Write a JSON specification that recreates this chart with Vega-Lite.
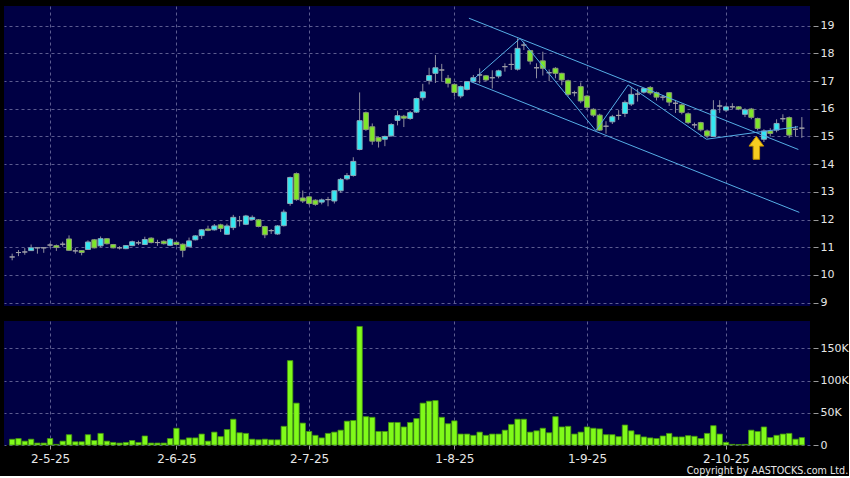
{
  "$schema": "https://vega.github.io/schema/vega-lite/v6.json",
  "background": "#000000",
  "padding": {"left": 4, "top": 6, "right": 0, "bottom": 0},
  "config": {
    "view": {"fill": "#000044", "stroke": null},
    "font": "DejaVu Sans",
    "axis": {"labelColor": "#e6e6e6", "labelFont": "DejaVu Sans", "gridColor": "#5c5c90", "gridDash": [3, 3], "gridWidth": 1, "domain": false, "tickColor": "#9a9a9a", "title": null, "labelOverlap": false, "labelFlush": false},
    "concat": {"spacing": 13}
  },
  "title": {"text": "Copyright by AASTOCKS.com Ltd.", "orient": "bottom", "anchor": "end", "frame": "bounds", "font": "DejaVu Sans", "fontSize": 9.6, "fontWeight": "normal", "color": "#e6e6e6", "offset": 2},
  "datasets": {
    "candles": [
      {"day": 0, "open": 10.65, "high": 10.77, "low": 10.53, "close": 10.65, "volume": 8900},
      {"day": 1, "open": 10.81, "high": 10.9, "low": 10.68, "close": 10.81, "volume": 10000},
      {"day": 2, "open": 10.83, "high": 10.97, "low": 10.73, "close": 10.83, "volume": 6000},
      {"day": 3, "open": 10.88, "high": 11.1, "low": 10.87, "close": 10.98, "volume": 9000},
      {"day": 4, "open": 10.98, "high": 11.0, "low": 10.77, "close": 10.98, "volume": 3000},
      {"day": 5, "open": 10.98, "high": 11.0, "low": 10.8, "close": 10.98, "volume": 3000},
      {"day": 6, "open": 11.08, "high": 11.15, "low": 10.98, "close": 11.08, "volume": 10000},
      {"day": 7, "open": 11.06, "high": 11.1, "low": 10.87, "close": 10.99, "volume": 1000},
      {"day": 8, "open": 11.11, "high": 11.2, "low": 11.02, "close": 11.11, "volume": 6000},
      {"day": 9, "open": 11.3, "high": 11.43, "low": 10.87, "close": 10.89, "volume": 16000},
      {"day": 10, "open": 10.87, "high": 10.98, "low": 10.77, "close": 10.87, "volume": 5000},
      {"day": 11, "open": 10.88, "high": 10.9, "low": 10.71, "close": 10.81, "volume": 5000},
      {"day": 12, "open": 10.92, "high": 11.25, "low": 10.9, "close": 11.19, "volume": 16000},
      {"day": 13, "open": 11.27, "high": 11.3, "low": 10.96, "close": 10.98, "volume": 7000},
      {"day": 14, "open": 11.05, "high": 11.39, "low": 11.01, "close": 11.31, "volume": 18000},
      {"day": 15, "open": 11.31, "high": 11.33, "low": 11.1, "close": 11.13, "volume": 6000},
      {"day": 16, "open": 11.1, "high": 11.12, "low": 10.96, "close": 10.98, "volume": 4000},
      {"day": 17, "open": 10.98, "high": 11.04, "low": 10.92, "close": 10.98, "volume": 3000},
      {"day": 18, "open": 10.95, "high": 11.08, "low": 10.93, "close": 11.06, "volume": 4000},
      {"day": 19, "open": 11.06, "high": 11.24, "low": 11.04, "close": 11.2, "volume": 7000},
      {"day": 20, "open": 11.16, "high": 11.24, "low": 11.08, "close": 11.16, "volume": 4000},
      {"day": 21, "open": 11.1, "high": 11.38, "low": 11.08, "close": 11.28, "volume": 14000},
      {"day": 22, "open": 11.33, "high": 11.36, "low": 11.14, "close": 11.17, "volume": 3000},
      {"day": 23, "open": 11.17, "high": 11.27, "low": 11.05, "close": 11.17, "volume": 3000},
      {"day": 24, "open": 11.22, "high": 11.25, "low": 11.1, "close": 11.13, "volume": 3000},
      {"day": 25, "open": 11.07, "high": 11.33, "low": 11.04, "close": 11.29, "volume": 10000},
      {"day": 26, "open": 11.18, "high": 11.2, "low": 11.06, "close": 11.1, "volume": 26000},
      {"day": 27, "open": 11.11, "high": 11.14, "low": 10.64, "close": 10.89, "volume": 8000},
      {"day": 28, "open": 11.02, "high": 11.35, "low": 11.0, "close": 11.23, "volume": 11000},
      {"day": 29, "open": 11.27, "high": 11.44, "low": 11.25, "close": 11.41, "volume": 11000},
      {"day": 30, "open": 11.42, "high": 11.66, "low": 11.3, "close": 11.63, "volume": 17000},
      {"day": 31, "open": 11.66, "high": 11.78, "low": 11.58, "close": 11.61, "volume": 6000},
      {"day": 32, "open": 11.63, "high": 11.84, "low": 11.6, "close": 11.77, "volume": 20000},
      {"day": 33, "open": 11.81, "high": 11.85, "low": 11.55, "close": 11.68, "volume": 13000},
      {"day": 34, "open": 11.47, "high": 11.85, "low": 11.45, "close": 11.77, "volume": 24000},
      {"day": 35, "open": 11.71, "high": 12.17, "low": 11.62, "close": 12.08, "volume": 40000},
      {"day": 36, "open": 11.96, "high": 12.13, "low": 11.75, "close": 11.96, "volume": 19000},
      {"day": 37, "open": 11.83, "high": 12.17, "low": 11.8, "close": 12.13, "volume": 18000},
      {"day": 38, "open": 12.0, "high": 12.15, "low": 11.97, "close": 12.08, "volume": 9000},
      {"day": 39, "open": 11.99, "high": 12.02, "low": 11.72, "close": 11.75, "volume": 8000},
      {"day": 40, "open": 11.75, "high": 11.78, "low": 11.33, "close": 11.45, "volume": 9000},
      {"day": 41, "open": 11.6, "high": 11.66, "low": 11.48, "close": 11.6, "volume": 8000},
      {"day": 42, "open": 11.48, "high": 11.8, "low": 11.45, "close": 11.77, "volume": 8000},
      {"day": 43, "open": 11.78, "high": 12.36, "low": 11.75, "close": 12.27, "volume": 29000},
      {"day": 44, "open": 12.58, "high": 13.55, "low": 12.5, "close": 13.52, "volume": 131000},
      {"day": 45, "open": 13.66, "high": 13.7, "low": 12.68, "close": 12.72, "volume": 65000},
      {"day": 46, "open": 12.78, "high": 13.05, "low": 12.6, "close": 12.67, "volume": 34000},
      {"day": 47, "open": 12.82, "high": 12.85, "low": 12.52, "close": 12.58, "volume": 21000},
      {"day": 48, "open": 12.7, "high": 12.73, "low": 12.5, "close": 12.55, "volume": 15000},
      {"day": 49, "open": 12.63, "high": 12.76, "low": 12.55, "close": 12.71, "volume": 11000},
      {"day": 50, "open": 12.72, "high": 12.82, "low": 12.48, "close": 12.72, "volume": 18000},
      {"day": 51, "open": 12.67, "high": 13.06, "low": 12.58, "close": 13.04, "volume": 20000},
      {"day": 52, "open": 13.04, "high": 13.5, "low": 12.97, "close": 13.45, "volume": 23000},
      {"day": 53, "open": 13.47, "high": 13.68, "low": 13.42, "close": 13.59, "volume": 37000},
      {"day": 54, "open": 13.59, "high": 14.25, "low": 13.55, "close": 14.1, "volume": 38000},
      {"day": 55, "open": 14.53, "high": 16.59, "low": 14.5, "close": 15.57, "volume": 184000},
      {"day": 56, "open": 15.86, "high": 15.9, "low": 15.2, "close": 15.25, "volume": 44000},
      {"day": 57, "open": 15.35, "high": 15.47, "low": 14.7, "close": 14.83, "volume": 43000},
      {"day": 58, "open": 14.96, "high": 15.0, "low": 14.6, "close": 14.83, "volume": 21000},
      {"day": 59, "open": 14.9, "high": 15.03, "low": 14.65, "close": 15.0, "volume": 21000},
      {"day": 60, "open": 15.02, "high": 15.48, "low": 15.0, "close": 15.43, "volume": 35000},
      {"day": 61, "open": 15.58, "high": 15.93, "low": 15.4, "close": 15.75, "volume": 35000},
      {"day": 62, "open": 15.73, "high": 15.78, "low": 15.34, "close": 15.66, "volume": 28000},
      {"day": 63, "open": 15.65, "high": 15.92, "low": 15.6, "close": 15.86, "volume": 35000},
      {"day": 64, "open": 15.88, "high": 16.4, "low": 15.85, "close": 16.37, "volume": 41000},
      {"day": 65, "open": 16.4, "high": 16.9, "low": 16.3, "close": 16.61, "volume": 65000},
      {"day": 66, "open": 17.02, "high": 17.48, "low": 16.88, "close": 17.2, "volume": 68000},
      {"day": 67, "open": 17.28, "high": 17.94, "low": 16.93, "close": 17.48, "volume": 69000},
      {"day": 68, "open": 17.4, "high": 17.62, "low": 16.98, "close": 17.4, "volume": 43000},
      {"day": 69, "open": 17.1, "high": 17.22, "low": 16.77, "close": 16.92, "volume": 33000},
      {"day": 70, "open": 16.88, "high": 16.92, "low": 16.45, "close": 16.59, "volume": 37500},
      {"day": 71, "open": 16.46, "high": 16.84, "low": 16.38, "close": 16.8, "volume": 17000},
      {"day": 72, "open": 16.7, "high": 17.0, "low": 16.66, "close": 16.98, "volume": 17000},
      {"day": 73, "open": 16.98, "high": 17.22, "low": 16.94, "close": 17.12, "volume": 15000},
      {"day": 74, "open": 17.22, "high": 17.46, "low": 16.92, "close": 17.22, "volume": 20000},
      {"day": 75, "open": 17.19, "high": 17.22, "low": 16.99, "close": 17.04, "volume": 15000},
      {"day": 76, "open": 17.12, "high": 17.39, "low": 16.73, "close": 17.12, "volume": 17000},
      {"day": 77, "open": 17.18, "high": 17.41, "low": 17.1, "close": 17.37, "volume": 17000},
      {"day": 78, "open": 17.52, "high": 17.64, "low": 17.34, "close": 17.52, "volume": 23000},
      {"day": 79, "open": 17.6, "high": 18.0, "low": 17.4, "close": 17.6, "volume": 32000},
      {"day": 80, "open": 17.43, "high": 18.54, "low": 17.38, "close": 18.18, "volume": 40000},
      {"day": 81, "open": 18.3, "high": 18.42, "low": 18.12, "close": 18.3, "volume": 40000},
      {"day": 82, "open": 18.1, "high": 18.12, "low": 17.6, "close": 17.72, "volume": 20000},
      {"day": 83, "open": 17.48, "high": 17.64, "low": 17.1, "close": 17.48, "volume": 22000},
      {"day": 84, "open": 17.73, "high": 18.06, "low": 17.2, "close": 17.46, "volume": 26000},
      {"day": 85, "open": 17.3, "high": 17.42, "low": 17.0, "close": 17.3, "volume": 19000},
      {"day": 86, "open": 17.46, "high": 17.5, "low": 17.1, "close": 17.28, "volume": 44000},
      {"day": 87, "open": 17.28, "high": 17.3, "low": 16.85, "close": 17.04, "volume": 28000},
      {"day": 88, "open": 17.01, "high": 17.05, "low": 16.45, "close": 16.52, "volume": 29000},
      {"day": 89, "open": 16.58, "high": 16.65, "low": 16.45, "close": 16.58, "volume": 17000},
      {"day": 90, "open": 16.8, "high": 16.95, "low": 16.2, "close": 16.28, "volume": 20000},
      {"day": 91, "open": 16.46, "high": 16.5, "low": 15.95, "close": 16.05, "volume": 28000},
      {"day": 92, "open": 15.98, "high": 16.02, "low": 15.7, "close": 15.77, "volume": 26000},
      {"day": 93, "open": 15.77, "high": 15.82, "low": 15.2, "close": 15.23, "volume": 25000},
      {"day": 94, "open": 15.37, "high": 15.55, "low": 15.1, "close": 15.37, "volume": 16000},
      {"day": 95, "open": 15.53, "high": 15.78, "low": 15.45, "close": 15.71, "volume": 16000},
      {"day": 96, "open": 15.76, "high": 15.95, "low": 15.6, "close": 15.76, "volume": 13000},
      {"day": 97, "open": 15.83, "high": 16.3, "low": 15.7, "close": 16.23, "volume": 31000},
      {"day": 98, "open": 16.17, "high": 16.78, "low": 16.1, "close": 16.52, "volume": 22000},
      {"day": 99, "open": 16.53, "high": 16.72, "low": 16.26, "close": 16.53, "volume": 16000},
      {"day": 100, "open": 16.6, "high": 16.75, "low": 16.55, "close": 16.73, "volume": 12500},
      {"day": 101, "open": 16.77, "high": 16.82, "low": 16.5, "close": 16.57, "volume": 11000},
      {"day": 102, "open": 16.58, "high": 16.62, "low": 16.3, "close": 16.42, "volume": 10000},
      {"day": 103, "open": 16.42, "high": 16.5, "low": 16.3, "close": 16.42, "volume": 14000},
      {"day": 104, "open": 16.58, "high": 16.6, "low": 16.1, "close": 16.24, "volume": 18000},
      {"day": 105, "open": 16.2, "high": 16.32, "low": 15.85, "close": 16.2, "volume": 12500},
      {"day": 106, "open": 16.14, "high": 16.18, "low": 15.8, "close": 15.87, "volume": 12500},
      {"day": 107, "open": 15.82, "high": 15.87, "low": 15.45, "close": 15.5, "volume": 14500},
      {"day": 108, "open": 15.42, "high": 15.5, "low": 15.3, "close": 15.42, "volume": 13500},
      {"day": 109, "open": 15.5, "high": 15.53, "low": 15.18, "close": 15.24, "volume": 10000},
      {"day": 110, "open": 15.2, "high": 15.25, "low": 14.95, "close": 15.02, "volume": 18000},
      {"day": 111, "open": 15.0, "high": 16.31, "low": 14.98, "close": 15.96, "volume": 30000},
      {"day": 112, "open": 16.1, "high": 16.31, "low": 15.85, "close": 16.1, "volume": 17000},
      {"day": 113, "open": 15.95, "high": 16.12, "low": 15.88, "close": 16.07, "volume": 4000},
      {"day": 114, "open": 16.07, "high": 16.2, "low": 15.98, "close": 16.07, "volume": 1000},
      {"day": 115, "open": 16.07, "high": 16.1, "low": 15.95, "close": 15.99, "volume": 500},
      {"day": 116, "open": 15.8, "high": 16.02, "low": 15.7, "close": 15.96, "volume": 1000},
      {"day": 117, "open": 15.99, "high": 16.03, "low": 15.62, "close": 15.69, "volume": 23000},
      {"day": 118, "open": 15.65, "high": 15.68, "low": 15.22, "close": 15.29, "volume": 21000},
      {"day": 119, "open": 14.9, "high": 15.26, "low": 14.8, "close": 15.2, "volume": 28000},
      {"day": 120, "open": 15.2, "high": 15.3, "low": 15.0, "close": 15.11, "volume": 11500},
      {"day": 121, "open": 15.23, "high": 15.62, "low": 15.15, "close": 15.47, "volume": 15000},
      {"day": 122, "open": 15.64, "high": 15.8, "low": 15.52, "close": 15.64, "volume": 17000},
      {"day": 123, "open": 15.68, "high": 15.72, "low": 14.95, "close": 15.05, "volume": 18000},
      {"day": 124, "open": 15.26, "high": 15.38, "low": 15.0, "close": 15.26, "volume": 9000},
      {"day": 125, "open": 15.3, "high": 15.7, "low": 14.95, "close": 15.3, "volume": 11500}
    ],
    "trend": [
      {"line": "upper", "day": 72.3, "price": 19.27},
      {"line": "upper", "day": 124.45, "price": 14.53},
      {"line": "lower", "day": 72.6, "price": 16.98},
      {"line": "lower", "day": 124.6, "price": 12.26},
      {"line": "zigzag", "day": 72.6, "price": 16.98},
      {"line": "zigzag", "day": 80.4, "price": 18.54},
      {"line": "zigzag", "day": 92.4, "price": 15.21},
      {"line": "zigzag", "day": 97.5, "price": 16.86},
      {"line": "zigzag", "day": 109.9, "price": 14.9},
      {"line": "zigzag", "day": 118.5, "price": 15.17},
      {"line": "zigzag", "day": 124.4, "price": 15.35}
    ],
    "marker": [
      {"day": 117.8, "price": 14.59}
    ]
  },
  "vconcat": [
    {
      "width": 806,
      "height": 300,
      "data": {"name": "candles"},
      "encoding": {
        "x": {"field": "day", "type": "quantitative", "scale": {"domain": [-0.5, 125.5], "nice": false, "zero": false},
              "axis": {"values": [6, 26, 47, 70, 91, 113], "labels": false, "ticks": false, "grid": true, "title": null}}
      },
      "layer": [
        {
          "mark": {"type": "rule", "color": "#8e8e9e", "strokeWidth": 1},
          "encoding": {
            "y": {"field": "low", "type": "quantitative", "scale": {"domain": [8.88, 19.71], "nice": false, "zero": false},
                  "axis": {"orient": "right", "values": [9, 10, 11, 12, 13, 14, 15, 16, 17, 18, 19], "grid": true, "tickSize": 5, "offset": 3, "labelPadding": 2, "labelFontSize": 11, "title": null}},
            "y2": {"field": "high"}
          }
        },
        {
          "transform": [{"calculate": "datum.close > datum.open ? 'up' : (datum.close < datum.open ? 'down' : 'flat')", "as": "dir"}],
          "mark": {"type": "bar", "size": 5, "strokeWidth": 1},
          "encoding": {
            "y": {"field": "open", "type": "quantitative",
                  "axis": {"orient": "right", "values": [9, 10, 11, 12, 13, 14, 15, 16, 17, 18, 19], "grid": true, "tickSize": 5, "offset": 3, "labelPadding": 2, "labelFontSize": 11, "title": null}},
            "y2": {"field": "close"},
            "fill": {"field": "dir", "type": "nominal", "scale": {"domain": ["up", "down", "flat"], "range": ["#33e8f2", "#7ee62a", "#a0a0a8"]}, "legend": null},
            "stroke": {"field": "dir", "type": "nominal", "scale": {"domain": ["up", "down", "flat"], "range": ["#8aa8b8", "#8a9a78", "#a0a0a8"]}, "legend": null}
          }
        },
        {
          "data": {"name": "trend"},
          "mark": {"type": "line", "color": "#56aee6", "strokeWidth": 1},
          "encoding": {
            "y": {"field": "price", "type": "quantitative",
                  "axis": {"orient": "right", "values": [9, 10, 11, 12, 13, 14, 15, 16, 17, 18, 19], "grid": true, "tickSize": 5, "offset": 3, "labelPadding": 2, "labelFontSize": 11, "title": null}},
            "detail": {"field": "line", "type": "nominal"}
          }
        },
        {
          "data": {"name": "marker"},
          "mark": {"type": "point", "shape": "M0,-1L0.64,-0.15L0.28,-0.15L0.28,1L-0.28,1L-0.28,-0.15L-0.64,-0.15Z", "filled": true, "fill": "#f7cc20", "stroke": "#c09000", "strokeWidth": 1, "size": 530, "opacity": 1},
          "encoding": {
            "y": {"field": "price", "type": "quantitative",
                  "axis": {"orient": "right", "values": [9, 10, 11, 12, 13, 14, 15, 16, 17, 18, 19], "grid": true, "tickSize": 5, "offset": 3, "labelPadding": 2, "labelFontSize": 11, "title": null}}
          }
        }
      ]
    },
    {
      "width": 806,
      "height": 124,
      "data": {"name": "candles"},
      "mark": {"type": "bar", "size": 5.4, "fill": "#80fa1a", "stroke": "#44960f", "strokeWidth": 0.8},
      "encoding": {
        "x": {"field": "day", "type": "quantitative", "scale": {"domain": [-0.5, 125.5], "nice": false, "zero": false},
              "axis": {"values": [6, 26, 47, 70, 91, 113], "grid": true, "tickSize": 4, "labelPadding": 4, "labelFontSize": 12, "title": null,
                       "labelExpr": "datum.value == 6 ? '2-5-25' : datum.value == 26 ? '2-6-25' : datum.value == 47 ? '2-7-25' : datum.value == 70 ? '1-8-25' : datum.value == 91 ? '1-9-25' : '2-10-25'"}},
        "y": {"field": "volume", "type": "quantitative", "scale": {"domain": [0, 192500], "nice": false},
              "axis": {"orient": "right", "values": [0, 50000, 100000, 150000], "grid": true, "tickSize": 5, "offset": 3, "labelPadding": 2, "labelFontSize": 11, "title": null,
                       "labelExpr": "datum.value == 0 ? '0' : format(datum.value / 1000, 'd') + 'K'"}}
      }
    }
  ]
}
